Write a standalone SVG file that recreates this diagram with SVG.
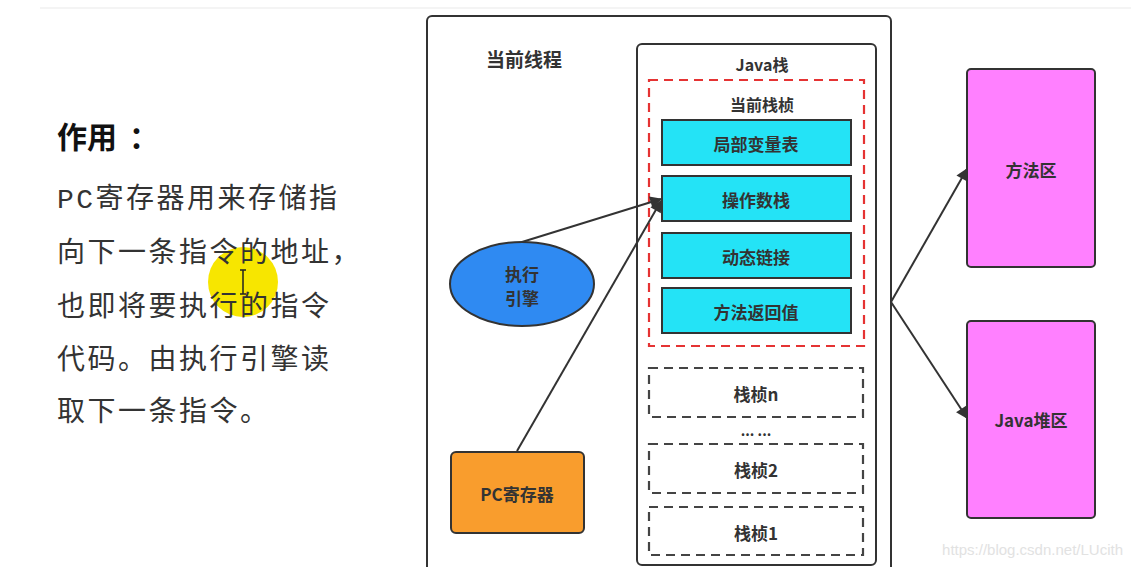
<svg xmlns="http://www.w3.org/2000/svg" width="1131" height="567" viewBox="0 0 1131 567">
<defs>
<style>
.lbl{font-family:"Noto Sans CJK SC","Noto Sans",sans-serif;font-weight:bold;fill:#333;text-anchor:middle;dominant-baseline:central}
.body{font-family:"Liberation Mono","Noto Sans CJK SC",monospace;font-size:28px;letter-spacing:2.5px;fill:#333}
.box{stroke:#333;stroke-width:2}
.cyan{fill:#24e3f6;stroke:#333;stroke-width:2}
.dash{fill:none;stroke:#444;stroke-width:2.2;stroke-dasharray:9 6}
.conn{stroke:#333;stroke-width:2;fill:none;marker-end:url(#ah)}
</style>
<marker id="ah" viewBox="0 0 10 10" refX="9" refY="5" markerWidth="13" markerHeight="12" markerUnits="userSpaceOnUse" orient="auto">
<path d="M0,0 L10,5 L0,10 z" fill="#333"/>
</marker>
</defs>
<rect width="1131" height="567" fill="#fff"/>
<line x1="40" y1="8" x2="1131" y2="8" stroke="#f0f0f0" stroke-width="1.5"/>

<g id="explain">
<circle cx="243" cy="282" r="35" fill="#f7e600"/>
<path d="M240,270 h6 M243,270 v24 M240,294 h6" stroke="#222" stroke-width="1.5" fill="none"/>
<text x="57" y="148" style="font-family:'Noto Sans CJK SC',sans-serif;font-weight:bold;font-size:30px;fill:#111">作用<tspan dx="12">：</tspan></text>
<text class="body" x="57" y="208">PC寄存器用来存储指</text>
<text class="body" x="57" y="262">向下一条指令的地址，</text>
<text class="body" x="57" y="316">也即将要执行的指令</text>
<text class="body" x="57" y="369">代码。由执行引擎读</text>
<text class="body" x="57" y="421">取下一条指令。</text>
</g>

<g id="thread">
<rect x="427" y="16" width="464" height="570" rx="5" fill="#fff" class="box"/>
<text class="lbl" x="524" y="58" font-size="19">当前线程</text>
</g>

<g id="javastack">
<rect x="637" y="44" width="239" height="521" rx="5" fill="#fff" class="box"/>
<text class="lbl" x="762" y="64" font-size="16">Java栈</text>
</g>

<g id="curframe">
<rect x="649" y="80" width="215" height="266" fill="none" stroke="#e53333" stroke-width="2.2" stroke-dasharray="9 6"/>
<text class="lbl" x="762" y="104" font-size="16">当前栈桢</text>
</g>

<g id="localvars"><rect x="662" y="120" width="189" height="45" class="cyan"/><text class="lbl" x="756" y="143" font-size="17">局部变量表</text></g>
<g id="opstack"><rect x="662" y="176" width="189" height="45" class="cyan"/><text class="lbl" x="756" y="199" font-size="17">操作数栈</text></g>
<g id="dynlink"><rect x="662" y="233" width="189" height="45" class="cyan"/><text class="lbl" x="756" y="256" font-size="17">动态链接</text></g>
<g id="retval"><rect x="662" y="288" width="189" height="45" class="cyan"/><text class="lbl" x="756" y="311" font-size="17">方法返回值</text></g>

<g id="framen"><rect x="649" y="368" width="214" height="49" class="dash"/><text class="lbl" x="756" y="393" font-size="17">栈桢n</text></g>
<g id="dots"><text class="lbl" x="756" y="430" font-size="14">... ...</text></g>
<g id="frame2"><rect x="649" y="444" width="214" height="49" class="dash"/><text class="lbl" x="756" y="469" font-size="17">栈桢2</text></g>
<g id="frame1"><rect x="649" y="507" width="214" height="48" class="dash"/><text class="lbl" x="756" y="532" font-size="17">栈桢1</text></g>

<g id="engine">
<ellipse cx="522" cy="284" rx="72" ry="42" fill="#2f8af2" stroke="#333" stroke-width="2"/>
<text class="lbl" x="522" y="273" font-size="17">执行</text>
<text class="lbl" x="522" y="297" font-size="17">引擎</text>
</g>

<g id="pc">
<rect x="451" y="452" width="133" height="81" rx="5" fill="#f99d2d" class="box"/>
<text class="lbl" x="517" y="493" font-size="17">PC寄存器</text>
</g>

<g id="methodarea">
<rect x="967" y="69" width="128" height="198" rx="4" fill="#ff80ff" class="box"/>
<text class="lbl" x="1031" y="169" font-size="17">方法区</text>
</g>

<g id="heap">
<rect x="967" y="321" width="128" height="197" rx="4" fill="#ff80ff" class="box"/>
<text class="lbl" x="1031" y="419" font-size="17">Java堆区</text>
</g>

<g id="connectors">
<line x1="522" y1="242" x2="661" y2="199" class="conn"/>
<line x1="517" y1="451" x2="661" y2="201" class="conn"/>
<line x1="891" y1="302" x2="967" y2="169" class="conn"/>
<line x1="891" y1="302" x2="967" y2="418" class="conn"/>
</g>

<text x="1123" y="555" text-anchor="end" style="font-family:'Liberation Sans',sans-serif;font-size:15px;fill:#e2e2e2">https://blog.csdn.net/LUcith</text>
</svg>
